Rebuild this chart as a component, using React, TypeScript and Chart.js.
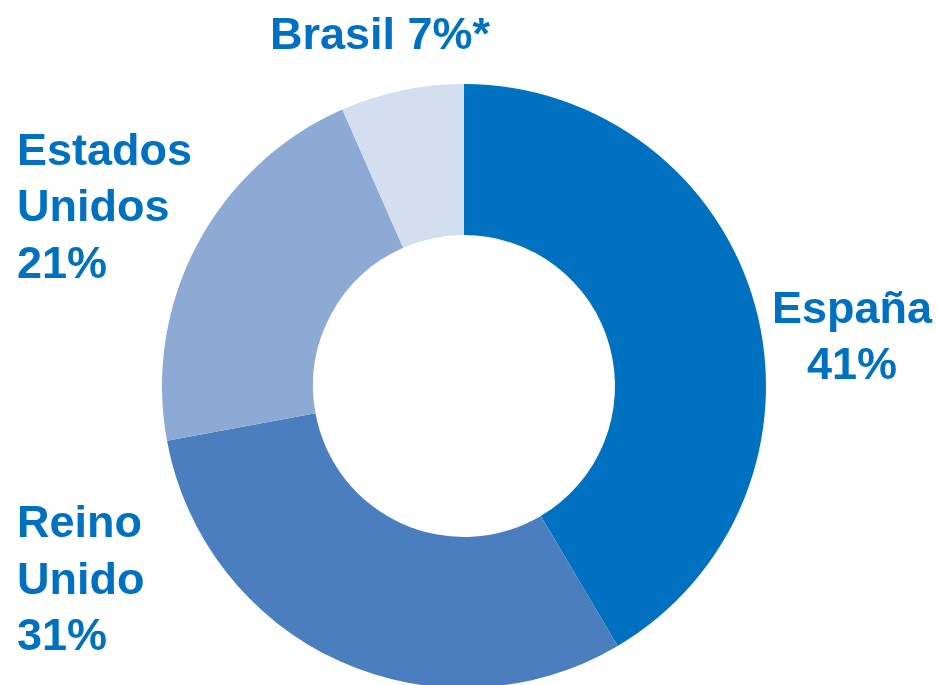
import React, { useEffect, useRef } from "react";
import { Chart, registerables } from "chart.js";

Chart.register(...registerables);

const categories = ["España", "Reino Unido", "Estados Unidos", "Brasil"];
// slice sizes (labels show the rounded values)
const shares = [41.5, 30.6, 21.3, 6.6];
const labelLines = [
  ["España", "41%"],
  ["Reino", "Unido", "31%"],
  ["Estados", "Unidos", "21%"],
  ["Brasil 7%*"],
];
const sliceColors = ["#0070C0", "#4A7EBF", "#8DAAD5", "#D3DEEF"];

// label anchors in units of the outer radius, relative to the doughnut centre
const labelPlacement = [
  { dx: 1.285, dy: -0.209, align: "center" },
  { dx: -1.48, dy: 0.5, align: "left" },
  { dx: -1.48, dy: -0.732, align: "left" },
  { dx: -0.278, dy: -1.116, align: "center" },
];

const W = 937;
const H = 700;

const labelPlugin = {
  id: "sliceLabels",
  afterDraw(chart: any) {
    const meta = chart.getDatasetMeta(0);
    const arc = meta.data[0];
    if (!arc) return;
    const cx = arc.x;
    const cy = arc.y;
    const R = arc.outerRadius;
    const ctx = chart.ctx;
    ctx.save();
    ctx.fillStyle = "#0070C0";
    ctx.font = "bold 45px 'Liberation Sans', Arial, sans-serif";
    ctx.textBaseline = "alphabetic";
    labelLines.forEach((lines, i) => {
      const p = labelPlacement[i];
      ctx.textAlign = p.align as CanvasTextAlign;
      const x = cx + p.dx * R;
      const y0 = cy + p.dy * R;
      lines.forEach((t, j) => ctx.fillText(t, x, y0 + j * 56.5));
    });
    ctx.restore();
  },
};

export default function App() {
  const ref = useRef<HTMLCanvasElement | null>(null);
  useEffect(() => {
    document.body.style.margin = "0";
    const c = ref.current!;
    const chart = new Chart(c, {
      type: "doughnut",
      data: {
        labels: categories,
        datasets: [
          {
            data: shares,
            backgroundColor: sliceColors,
            borderWidth: 0,
          },
        ],
      },
      options: {
        responsive: false,
        animation: false,
        cutout: "50%",
        layout: { padding: { top: 84, bottom: 12, left: 160, right: 169 } },
        plugins: {
          legend: { display: false },
          tooltip: { enabled: false },
        },
      },
      plugins: [labelPlugin],
    });
    return () => chart.destroy();
  }, []);
  return (
    <div
      style={{
        position: "fixed",
        left: 0,
        top: 0,
        width: W,
        height: 685,
        overflow: "hidden",
        background: "#fff",
      }}
    >
      <canvas ref={ref} width={W} height={H} style={{ width: W, height: H, display: "block" }} />
    </div>
  );
}
